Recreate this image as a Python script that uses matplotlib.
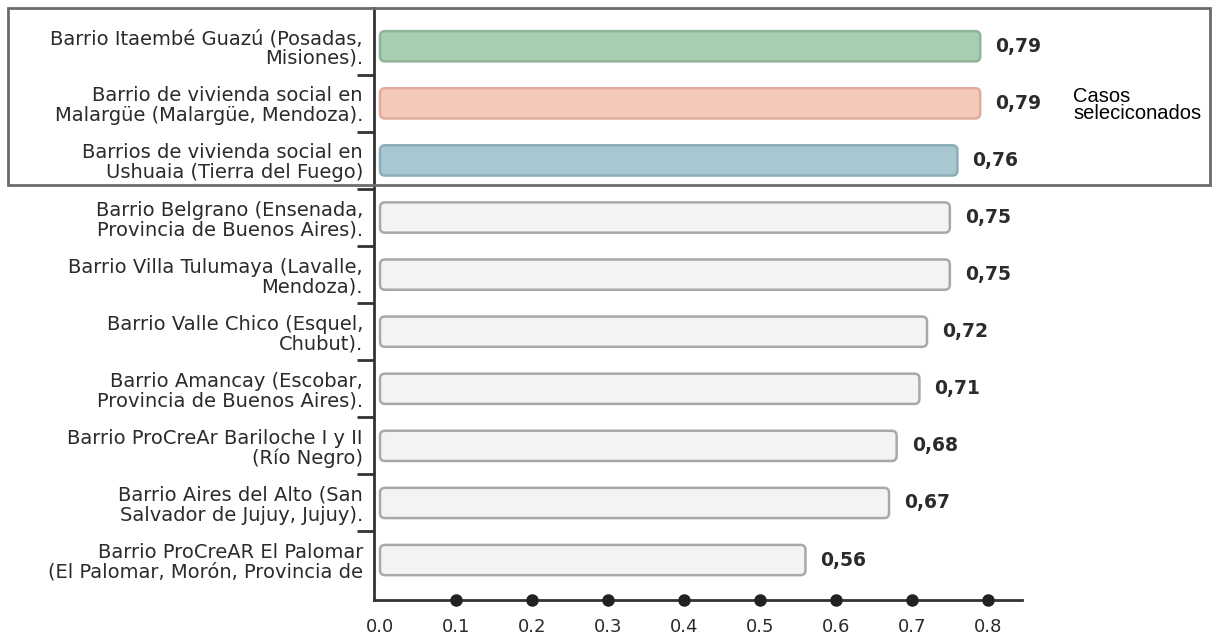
import matplotlib.pyplot as plt
from matplotlib.patches import FancyBboxPatch, Rectangle
import numpy as np

plt.rcParams['font.family'] = ['DejaVu Sans']

# datos
barrios = [
    'Barrio Itaembé Guazú (Posadas,\nMisiones).',
    'Barrio de vivienda social en\nMalargüe (Malargüe, Mendoza).',
    'Barrios de vivienda social en\nUshuaia (Tierra del Fuego)',
    'Barrio Belgrano (Ensenada,\nProvincia de Buenos Aires).',
    'Barrio Villa Tulumaya (Lavalle,\nMendoza).',
    'Barrio Valle Chico (Esquel,\nChubut).',
    'Barrio Amancay (Escobar,\nProvincia de Buenos Aires).',
    'Barrio ProCreAr Bariloche I y II\n(Río Negro)',
    'Barrio Aires del Alto (San\nSalvador de Jujuy, Jujuy).',
    'Barrio ProCreAR El Palomar\n(El Palomar, Morón, Provincia de',
]
valores = [0.79, 0.79, 0.76, 0.75, 0.75, 0.72, 0.71, 0.68, 0.67, 0.56]
etiquetas = ['0,79', '0,79', '0,76', '0,75', '0,75', '0,72', '0,71', '0,68', '0,67', '0,56']
ticks_x = [0.0, 0.1, 0.2, 0.3, 0.4, 0.5, 0.6, 0.7, 0.8]

relleno = ['#a9cdb0', '#f5c9b9', '#a9c7d1'] + ['#f3f3f3'] * 7
borde = ['#8db595', '#e2ac9c', '#8badb8'] + ['#a8a8a8'] * 7

fig = plt.figure(figsize=(12.13, 6.38), dpi=100)
ax = fig.add_axes([374 / 1213, 1 - 600 / 638, (1022 - 374) / 1213, (600 - 8) / 638])

xmin, xmax = -0.0079, 0.845
ax.set_xlim(xmin, xmax)
ax.set_ylim(9.7, -0.67)

# aspecto para redondear las barras
px_x = (xmax - xmin) / 648
px_y = (9.7 + 0.67) / 592
alto = 0.53
for i, v in enumerate(valores):
    p = FancyBboxPatch((0, i - alto / 2), v, alto,
                       boxstyle='round,pad=0,rounding_size=%f' % (5 * px_x),
                       mutation_aspect=px_y / px_x,
                       facecolor=relleno[i], edgecolor=borde[i], linewidth=1.8)
    ax.add_patch(p)
    ax.text(v + 15 * px_x, i, etiquetas[i], va='center', ha='left',
            fontsize=13.5, fontweight='bold', color='#2b2b2b')

ax.set_yticks(range(len(barrios)))
ax.set_yticklabels(barrios, fontsize=14, color='#2b2b2b', linespacing=1.05, ha='right')
ax.tick_params(axis='y', which='major', length=0, pad=8)
ax.set_yticks(np.arange(0.5, len(barrios) - 1, 1), minor=True)
ax.tick_params(axis='y', which='minor', length=12, width=2, color='#333333')

ax.set_xticks(ticks_x)
ax.set_xticklabels(['%.1f' % t for t in ticks_x], fontsize=13, color='#2b2b2b')
ax.tick_params(axis='x', length=0, pad=13)

# puntos sobre el eje
ax.plot(ticks_x[1:], [9.7] * (len(ticks_x) - 1), 'o', color='#222222',
        markersize=8, clip_on=False, zorder=5)

for s in ['top', 'right']:
    ax.spines[s].set_visible(False)
for s in ['left', 'bottom']:
    ax.spines[s].set_linewidth(2)
    ax.spines[s].set_color('#333333')

# recuadro de casos seleccionados
fig.patches.append(Rectangle((8 / 1213, 1 - 185 / 638), (1210 - 8) / 1213, (185 - 8) / 638,
                             transform=fig.transFigure, fill=False,
                             edgecolor='#6b6b6b', linewidth=2))
fig.text(1073 / 1213, 1 - 105 / 638, 'Casos\nseleciconados', fontsize=14.5,
         family='Liberation Sans', va='center', ha='left', color='black', linespacing=0.9)

fig.savefig('out.png', dpi=100)
